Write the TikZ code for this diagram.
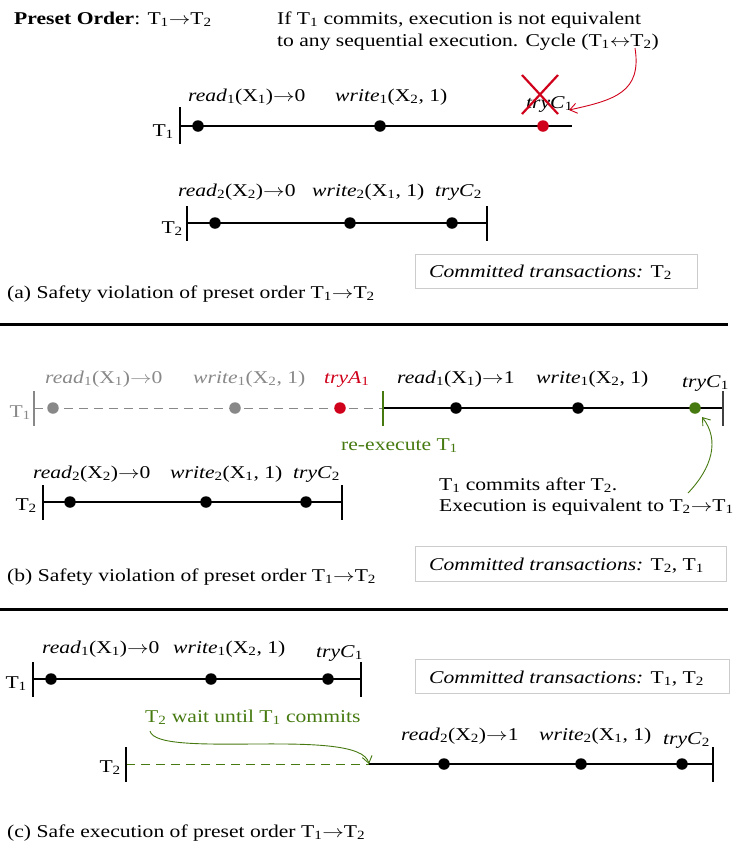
\documentclass[tikz,border=0pt]{standalone}
\usepackage{fontspec}
\usepackage{graphicx}
\setmainfont{Liberation Serif}[FakeStretch=1.2]
\usetikzlibrary{arrows.meta}
\definecolor{tred}{HTML}{D0021B}
\definecolor{tgreen}{HTML}{467A10}
\definecolor{tgray}{HTML}{888888}
\definecolor{boxgray}{HTML}{CCCCCC}
\newcommand\Tx[1]{T\textsubscript{#1}}
\newcommand\opn[2]{\textit{#1}\textsubscript{#2}}
\newcommand\rarr{\scalebox{1.25}[1]{$\rightarrow$}}
\newcommand\lrarr{\scalebox{1.2}[1]{$\leftrightarrow$}}
\tikzset{
  lbl/.style={inner sep=0pt, anchor=base west},
  tlab/.style={inner sep=0pt, anchor=base east},
  dot/.style={circle, fill=black, inner sep=0pt, minimum size=11.5pt},
  tline/.style={line width=1.1pt},
  tick/.style={line width=1.1pt},
  cbox/.style={draw=boxgray, line width=1pt, inner sep=0pt, anchor=north west},
  sepline/.style={line width=3pt},
  dsh/.style={dash pattern=on 9pt off 6pt, line width=1pt},
  curvearrow/.style={line width=0.9pt, -{Straight Barb[length=7pt,width=10pt]}},
}
\begin{document}
\begin{tikzpicture}[x=1pt,y=-1pt,font=\fontsize{18}{22}\selectfont]
\path[use as bounding box] (0,0) rectangle (735,847);

% ---------------- (a) ----------------
\node[lbl] (title) at (14,24) {\textbf{Preset Order}: \Tx1\rarr\Tx2};
\node[lbl] (note1) at (277,24) {If \Tx1 commits, execution is not equivalent};
\node[lbl] (note2) at (277,46) {to any sequential execution. Cycle (\Tx1\lrarr\Tx2)};

% T1 row
\coordinate (a1s) at (180,126);
\coordinate (a1e) at (572,126);
\draw[tline] (a1s) -- (a1e);
\draw[tick] ([yshift=19pt]a1s) -- ([yshift=-18pt]a1s);
\node[tlab] (a1n) at (174,136) {\Tx1};
\node[dot] (a1d1) at (198,126) {};
\node[dot] (a1d2) at (380,126) {};
\node[dot, fill=tred] (a1d3) at (543,126) {};
\node[lbl] (a1l1) at (188,101) {\opn{read}{1}(X\textsubscript{1})\rarr0};
\node[lbl] (a1l2) at (335,101) {\opn{write}{1}(X\textsubscript{2}, 1)};
\node[lbl] (a1l3) at (526,108) {\opn{tryC}{1}};
\coordinate (xa) at (522,75);
\coordinate (xb) at (558,114);
\coordinate (xc) at (558,75);
\coordinate (xd) at (522,114);
\draw[tred, line width=2.2pt] (xa) -- (xb);
\draw[tred, line width=2.2pt] (xc) -- (xd);
\coordinate (cyc) at (635,48);
\coordinate (cyctip) at (569,110);
\draw[tred, curvearrow] (cyc) .. controls (642,92) and (615,100) .. (cyctip);

% T2 row
\coordinate (a2s) at (187,223);
\coordinate (a2e) at (487,223);
\draw[tline] (a2s) -- (a2e);
\draw[tick] ([yshift=17pt]a2s) -- ([yshift=-18pt]a2s);
\draw[tick] ([yshift=17pt]a2e) -- ([yshift=-18pt]a2e);
\node[tlab] (a2n) at (183,233) {\Tx2};
\node[dot] (a2d1) at (215,223) {};
\node[dot] (a2d2) at (350,223) {};
\node[dot] (a2d3) at (452,223) {};
\node[lbl] (a2l1) at (178,196) {\opn{read}{2}(X\textsubscript{2})\rarr0};
\node[lbl] (a2l2) at (312,196) {\opn{write}{2}(X\textsubscript{1}, 1)};
\node[lbl] (a2l3) at (435,196) {\opn{tryC}{2}};

\node[cbox, minimum width=282pt, minimum height=34pt] (boxa) at (415,254) {};
\node[lbl] (boxat) at (429,277) {\textit{Committed transactions:} \Tx2};
\node[lbl] (capa) at (7,298) {(a) Safety violation of preset order \Tx1\rarr\Tx2};
\coordinate (sep1a) at (0,324);
\coordinate (sep1b) at (728,324);
\draw[sepline] (sep1a) -- (sep1b);

% ---------------- (b) ----------------
\coordinate (b1s) at (34,408);
\coordinate (b1m) at (383,408);
\coordinate (b1e) at (723,408);
\draw[dsh, tgray] (b1s) -- (b1m);
\draw[tick, tgray] ([yshift=17pt]b1s) -- ([yshift=-18pt]b1s);
\draw[tline] (b1m) -- (b1e);
\draw[tick, tgreen] ([yshift=17pt]b1m) -- ([yshift=-18pt]b1m);
\draw[tick, black!75] ([yshift=17pt]b1e) -- ([yshift=-18pt]b1e);
\node[tlab, tgray] (b1n) at (31,417) {\Tx1};
\node[dot, fill=tgray] (b1d1) at (53,408) {};
\node[dot, fill=tgray] (b1d2) at (235,408) {};
\node[dot, fill=tred] (b1d3) at (340,408) {};
\node[dot] (b1d4) at (456,408) {};
\node[dot] (b1d5) at (578,408) {};
\node[dot, fill=tgreen] (b1d6) at (695,408) {};
\node[lbl, tgray] (b1l1) at (45,383) {\opn{read}{1}(X\textsubscript{1})\rarr0};
\node[lbl, tgray] (b1l2) at (193,383) {\opn{write}{1}(X\textsubscript{2}, 1)};
\node[lbl, tred] (b1l3) at (324,383) {\opn{tryA}{1}};
\node[lbl] (b1l4) at (397,383) {\opn{read}{1}(X\textsubscript{1})\rarr1};
\node[lbl] (b1l5) at (536,383) {\opn{write}{1}(X\textsubscript{2}, 1)};
\node[lbl] (b1l6) at (682,387) {\opn{tryC}{1}};
\node[lbl, tgreen] (reex) at (341,450) {re-execute \Tx1};
\node[lbl] (noteb1) at (439,490) {\Tx1 commits after \Tx2.};
\node[lbl] (noteb2) at (439,511) {Execution is equivalent to \Tx2\rarr\Tx1};
\coordinate (gstart) at (688,493);
\coordinate (gtip) at (702,417);
\draw[tgreen, curvearrow] (gstart) .. controls (712,468) and (720,440) .. (gtip);

% T2 row
\coordinate (b2s) at (43,502);
\coordinate (b2e) at (342,502);
\draw[tline] (b2s) -- (b2e);
\draw[tick] ([yshift=17pt]b2s) -- ([yshift=-18pt]b2s);
\draw[tick] ([yshift=17pt]b2e) -- ([yshift=-18pt]b2e);
\node[tlab] (b2n) at (37,510) {\Tx2};
\node[dot] (b2d1) at (70,502) {};
\node[dot] (b2d2) at (206,502) {};
\node[dot] (b2d3) at (306,502) {};
\node[lbl] (b2l1) at (33,478) {\opn{read}{2}(X\textsubscript{2})\rarr0};
\node[lbl] (b2l2) at (170,478) {\opn{write}{2}(X\textsubscript{1}, 1)};
\node[lbl] (b2l3) at (293,478) {\opn{tryC}{2}};

\node[cbox, minimum width=311pt, minimum height=35pt] (boxb) at (415,546) {};
\node[lbl] (boxbt) at (429,570) {\textit{Committed transactions:} \Tx2, \Tx1};
\node[lbl] (capb) at (7,581) {(b) Safety violation of preset order \Tx1\rarr\Tx2};
\coordinate (sep2a) at (0,609);
\coordinate (sep2b) at (728,609);
\draw[sepline] (sep2a) -- (sep2b);

% ---------------- (c) ----------------
\coordinate (c1s) at (33,679);
\coordinate (c1e) at (361,679);
\draw[tline] (c1s) -- (c1e);
\draw[tick] ([yshift=17pt]c1s) -- ([yshift=-18pt]c1s);
\draw[tick] ([yshift=17pt]c1e) -- ([yshift=-18pt]c1e);
\node[tlab] (c1n) at (27,688) {\Tx1};
\node[dot] (c1d1) at (51,679) {};
\node[dot] (c1d2) at (211,679) {};
\node[dot] (c1d3) at (328,679) {};
\node[lbl] (c1l1) at (42,653) {\opn{read}{1}(X\textsubscript{1})\rarr0};
\node[lbl] (c1l2) at (173,653) {\opn{write}{1}(X\textsubscript{2}, 1)};
\node[lbl] (c1l3) at (316,657) {\opn{tryC}{1}};

\node[cbox, minimum width=314pt, minimum height=34pt] (boxc) at (415,659) {};
\node[lbl] (boxct) at (429,683) {\textit{Committed transactions:} \Tx1, \Tx2};

\node[lbl, tgreen] (wait) at (145,722) {\Tx2 wait until \Tx1 commits};

\coordinate (c2s) at (126,764);
\coordinate (c2m) at (369,764);
\coordinate (c2e) at (713,764);
\draw[dsh, tgreen] (c2s) -- (c2m);
\draw[tline] (c2m) -- (c2e);
\draw[tick] ([yshift=17pt]c2s) -- ([yshift=-18pt]c2s);
\draw[tick] ([yshift=17pt]c2e) -- ([yshift=-18pt]c2e);
\node[tlab] (c2n) at (121,772) {\Tx2};
\node[dot] (c2d1) at (444,764) {};
\node[dot] (c2d2) at (581,764) {};
\node[dot] (c2d3) at (682,764) {};
\node[lbl] (c2l1) at (401,740) {\opn{read}{2}(X\textsubscript{2})\rarr1};
\node[lbl] (c2l2) at (539,740) {\opn{write}{2}(X\textsubscript{1}, 1)};
\node[lbl] (c2l3) at (663,744) {\opn{tryC}{2}};
\coordinate (wstart) at (150,731);
\draw[tgreen, curvearrow] (wstart) .. controls (157,760) and (360,726) .. (c2m);

\node[lbl] (capc) at (7,837) {(c) Safe execution of preset order \Tx1\rarr\Tx2};
\end{tikzpicture}
\end{document}
